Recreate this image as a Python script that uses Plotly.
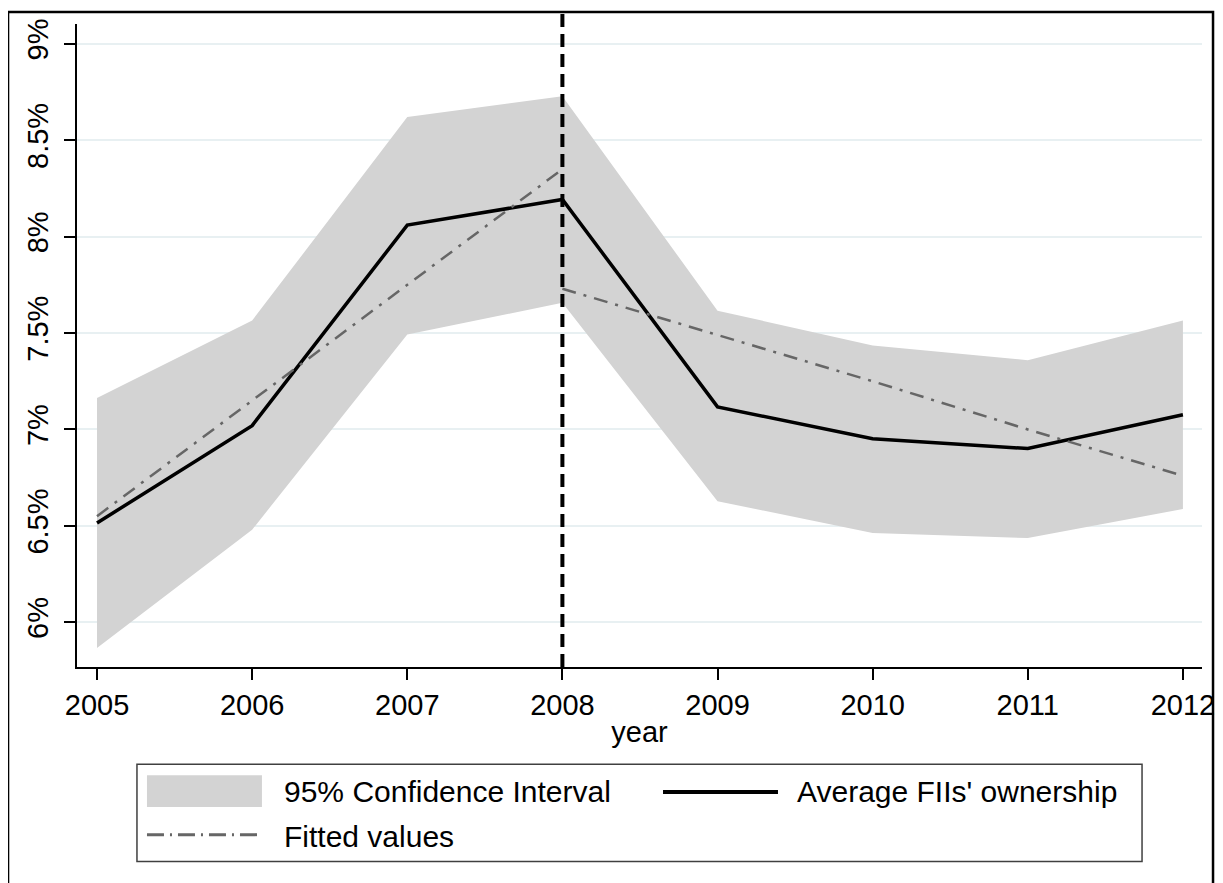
import plotly.graph_objects as go

years = [2005, 2006, 2007, 2008, 2009, 2010, 2011, 2012]
avg_own = [6.515, 7.02, 8.06, 8.193, 7.117, 6.952, 6.901, 7.076]
ci_upper = [7.163, 7.565, 8.62, 8.728, 7.616, 7.436, 7.359, 7.565]
ci_lower = [5.866, 6.48, 7.493, 7.657, 6.628, 6.463, 6.437, 6.587]
fit_pre_years = [2005, 2006, 2007, 2008]
fit_pre = [6.55, 7.15, 7.75, 8.35]
fit_post_years = [2008, 2009, 2010, 2011, 2012]
fit_post = [7.73, 7.49, 7.25, 7.00, 6.76]
ytick_vals = [6, 6.5, 7, 7.5, 8, 8.5, 9]
ytick_text = ["6%", "6.5%", "7%", "7.5%", "8%", "8.5%", "9%"]
cutoff_year = 2008

FONT = "Liberation Sans, Arial, sans-serif"
CI_COLOR = "#d3d3d3"
AVG_COLOR = "black"
FIT_COLOR = "#666666"
FIT_DASH = "14px,8px,3px,8px"

fig = go.Figure()

ci = go.Scatter(
    x=years + years[::-1],
    y=ci_upper + ci_lower[::-1],
    fill="toself", fillcolor=CI_COLOR,
    line=dict(width=0, color=CI_COLOR),
    mode="lines", name="95% Confidence Interval",
    hoverinfo="skip", showlegend=False,
)
avg = go.Scatter(
    x=years, y=avg_own, mode="lines",
    line=dict(color=AVG_COLOR, width=3.5),
    name="Average FIIs' ownership", showlegend=False,
)
fit = go.Scatter(
    x=fit_pre_years + [None] + fit_post_years,
    y=fit_pre + [None] + fit_post,
    mode="lines", connectgaps=False,
    line=dict(color=FIT_COLOR, width=2.5, dash=FIT_DASH),
    name="Fitted values", showlegend=False,
)
fig.add_traces([ci, avg, fit])

# vertical cutoff line
fig.add_shape(type="line", xref="x", yref="paper",
              x0=cutoff_year, x1=cutoff_year, y0=0, y1=1.017,
              line=dict(color="black", width=4, dash="13px,7px"))

# outer frame
fig.add_shape(type="rect", xref="paper", yref="paper",
              x0=-0.0613, x1=1.0098, y0=-0.34, y1=1.0185,
              line=dict(color="black", width=2.5), fillcolor="rgba(0,0,0,0)",
              layer="above")

# legend box (drawn in paper coordinates below the plot)
fig.add_shape(type="rect", xref="paper", yref="paper",
              x0=0.0533, x1=0.9467, y0=-0.3025, y1=-0.1512,
              line=dict(color="#404040", width=1.5), fillcolor="white",
              layer="above")
# legend swatches
fig.add_shape(type="rect", xref="paper", yref="paper",
              x0=0.0622, x1=0.1644, y0=-0.2176, y1=-0.1682,
              line=dict(width=0), fillcolor=CI_COLOR, layer="above")
fig.add_shape(type="line", xref="paper", yref="paper",
              x0=0.5209, x1=0.6231, y0=-0.1944, y1=-0.1944,
              line=dict(color=AVG_COLOR, width=4), layer="above")
fig.add_shape(type="line", xref="paper", yref="paper",
              x0=0.0622, x1=0.1644, y0=-0.2608, y1=-0.2608,
              line=dict(color=FIT_COLOR, width=3, dash="17px,6px,2px,6px"),
              layer="above")
for tx, ty, label in [(0.1822, -0.1944, ci.name),
                      (0.6382, -0.1944, avg.name),
                      (0.1822, -0.2639, fit.name)]:
    fig.add_annotation(x=tx, y=ty, xref="paper", yref="paper",
                       text=label, showarrow=False,
                       xanchor="left", yanchor="middle",
                       font=dict(family=FONT, size=30, color="black"))

fig.update_layout(
    width=1223, height=883,
    margin=dict(l=69, r=29, t=11, b=224),
    paper_bgcolor="white", plot_bgcolor="white",
    font=dict(family=FONT, size=29, color="black"),
    showlegend=False,
    xaxis=dict(
        range=[2004.871, 2012.123],
        tickmode="array", tickvals=years,
        ticks="outside", ticklen=11, tickwidth=1.5, tickcolor="black",
        showline=True, linecolor="black", linewidth=1.5,
        showgrid=False, zeroline=False,
        title=dict(text="year", standoff=2, font=dict(size=29)),
        tickfont=dict(size=29),
    ),
    yaxis=dict(
        range=[5.768, 9.103],
        tickmode="array", tickvals=ytick_vals, ticktext=ytick_text,
        tickangle=-90,
        ticks="outside", ticklen=11, tickwidth=1.5, tickcolor="black",
        ticklabelstandoff=5,
        showline=True, linecolor="black", linewidth=1.5,
        showgrid=True, gridcolor="#e8f0f2", gridwidth=2,
        zeroline=False,
        tickfont=dict(size=29),
    ),
)

fig.write_html("out.html")
